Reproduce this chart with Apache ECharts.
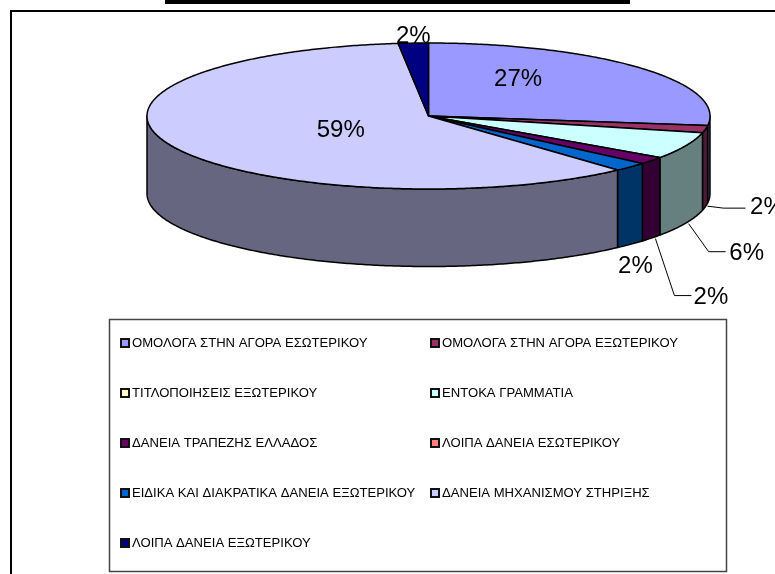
<!DOCTYPE html>
<html><head><meta charset="utf-8">
<style>html,body{margin:0;padding:0;background:#fff}#c{width:775px;height:574px}</style>
<script src="https://cdn.jsdelivr.net/npm/echarts@6/dist/echarts.min.js"></script>
</head><body><div id="c"></div>
<script>
const categories = ['ΟΜΟΛΟΓΑ ΣΤΗΝ ΑΓΟΡΑ ΕΣΩΤΕΡΙΚΟΥ','ΟΜΟΛΟΓΑ ΣΤΗΝ ΑΓΟΡΑ ΕΞΩΤΕΡΙΚΟΥ','ΤΙΤΛΟΠΟΙΗΣΕΙΣ ΕΞΩΤΕΡΙΚΟΥ','ΕΝΤΟΚΑ ΓΡΑΜΜΑΤΙΑ','ΔΑΝΕΙΑ ΤΡΑΠΕΖΗΣ ΕΛΛΑΔΟΣ','ΛΟΙΠΑ ΔΑΝΕΙΑ ΕΣΩΤΕΡΙΚΟΥ','ΕΙΔΙΚΑ ΚΑΙ ΔΙΑΚΡΑΤΙΚΑ ΔΑΝΕΙΑ ΕΞΩΤΕΡΙΚΟΥ','ΔΑΝΕΙΑ ΜΗΧΑΝΙΣΜΟΥ ΣΤΗΡΙΞΗΣ','ΛΟΙΠΑ ΔΑΝΕΙΑ ΕΞΩΤΕΡΙΚΟΥ'];
const values = [26.8,1.6,0,5.9,1.6,0,2.0,59.4,1.7];
const topColors = ['#9999FF','#993366','#FFFFCC','#CCFFFF','#660066','#FF8080','#0066CC','#CCCCFF','#000080'];
const sideColors = ['#4D4D80','#4D1A33','#808066','#668080','#330033','#804040','#003366','#666680','#000040'];

// layout of the pie drum
const CX = 428.5, CY = 116, RX = 281.5, RY = 73, DEPTH = 77.5;
// label layout per slice: text offset from the rim point at the slice's mid-angle; optional leader start and bends
const labelLayout = [
  {dx:-122, dy:12},
  {dx:62, dy:78, from:[2,77], leader:[[16,2],[38,2]]},
  null,
  {dx:61, dy:107.5, from:[3,78], leader:[[20,28],[37,28]]},
  {dx:59.5, dy:137, from:[4,78], leader:[[19,57],[36,57]]},
  null,
  {dx:5, dy:99.5},
  {dx:169, dy:-16},
  {dx:0, dy:-7}
];

const total = values.reduce((a,b)=>a+b,0);
const cum = values.reduce((acc,v)=>{acc.push(acc[acc.length-1]+v);return acc;},[0]);
const ang = f => f/total*2*Math.PI;
const pt = (t,dy=0)=>[CX+RX*Math.sin(t), CY-RY*Math.cos(t)+dy];

function arcPts(a,b,dy=0){
  const n=Math.max(2,Math.ceil(Math.abs(b-a)/0.01)), out=[];
  for(let i=0;i<=n;i++) out.push(pt(a+(b-a)*i/n,dy));
  return out;
}
const line = {stroke:'#000',lineWidth:1.5,lineJoin:'round'};

function renderItem(idx){
  return function(params,api){
    const v = api.value(0);
    if(!v) return {type:'group',children:[]};
    const a=ang(cum[idx]), b=ang(cum[idx]+v), kids=[];
    // visible outer wall (front half of the drum)
    const s=Math.max(a,Math.PI/2), e=Math.min(b,Math.PI*3/2);
    if(e>s){
      const upper=arcPts(s,e), lower=arcPts(e,s,DEPTH);
      kids.push({type:'polygon',shape:{points:upper.concat(lower)},style:{fill:sideColors[idx],...line}});
    }
    // top face
    kids.push({type:'polygon',shape:{points:[[CX,CY]].concat(arcPts(a,b))},style:{fill:topColors[idx],...line}});
    // label
    const L=labelLayout[idx];
    if(L){
      const m=pt((a+b)/2);
      if(L.leader){
        const p0=[m[0]+L.from[0],m[1]+L.from[1]];
        const pts=[p0].concat(L.leader.map(d=>[p0[0]+d[0],p0[1]+d[1]]));
        kids.push({type:'polyline',shape:{points:pts},style:{stroke:'#000',lineWidth:1,fill:null}});
      }
      kids.push({type:'text',style:{x:m[0]+L.dx,y:m[1]+L.dy,text:Math.round(v)+'%',font:'24px "Liberation Sans"',fill:'#000',textAlign:'center',textVerticalAlign:'middle'}});
    }
    return {type:'group',children:kids};
  };
}
// Paint back-to-front so the walls overlap properly
const series = categories.map((name,i)=>({
  type:'custom',name,coordinateSystem:'none',
  data:[[values[i]]],
  itemStyle:{color:topColors[i],borderColor:'#111',borderWidth:1.5},
  renderItem:renderItem(i),
  silent:true,animation:false,
  z:2+i
}));

const legendBase = {orient:'vertical',icon:'rect',itemWidth:8,itemHeight:8,itemGap:36,
  selectedMode:false,padding:0,
  textStyle:{fontFamily:'Liberation Sans',fontSize:13.1,lineHeight:14,color:'#000',padding:[0,0,0,-2]}};

const chart = echarts.init(document.getElementById('c'),null,{renderer:'canvas'});
chart.setOption({
  animation:false,
  backgroundColor:'#fff',
  graphic:[
    {type:'rect',z:0,shape:{x:165,y:0,width:465,height:4},style:{fill:'#000'}},
    {type:'rect',z:0,shape:{x:11,y:11,width:780,height:580},style:{fill:'none',stroke:'#000',lineWidth:2}},
    {type:'rect',z:0,shape:{x:109.5,y:319.5,width:617,height:252},style:{fill:'none',stroke:'#444',lineWidth:1.5}}
  ],
  legend:[
    Object.assign({},legendBase,{left:120,top:336,data:categories.filter((_,i)=>i%2===0)}),
    Object.assign({},legendBase,{left:430,top:336,data:categories.filter((_,i)=>i%2===1)})
  ],
  series
});
</script></body></html>
